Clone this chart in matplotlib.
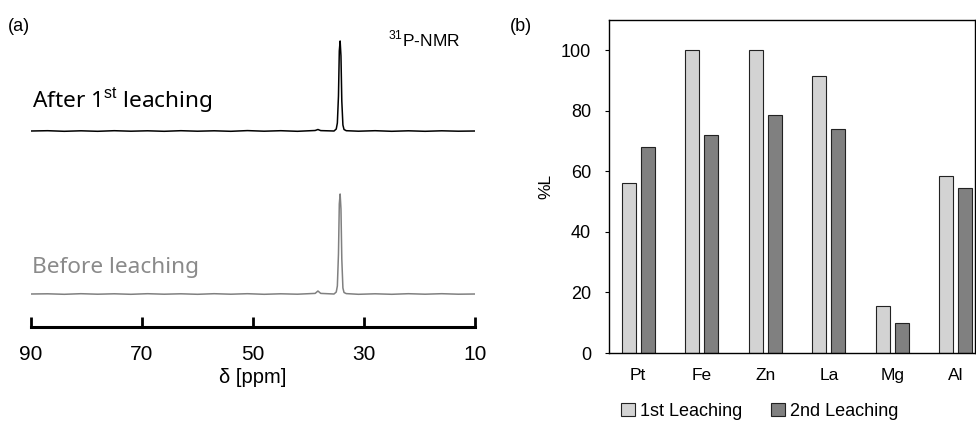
import numpy as np
import matplotlib.pyplot as plt
from matplotlib.patches import Patch

plt.rcParams.update({
    "font.family": ["Liberation Sans", "DejaVu Sans"],
    "mathtext.fontset": "custom",
    "mathtext.rm": "Liberation Sans",
    "axes.linewidth": 1.0,
})

# ---- data: (a) 31P NMR spectra ----
ppm = [90, 87, 84, 81, 78, 75, 72, 69, 66, 63, 60, 57, 54, 51, 48, 45, 42, 40,
       38.8, 38.3, 37.8,
       35.4, 35.0, 34.8, 34.6, 34.45, 34.3, 34.15, 34.0, 33.8, 33.6, 33.2,
       31, 28, 25, 22, 19, 16, 13, 10]
after_1st = [0.0, 0.3, -0.3, 0.2, -0.3, 0.3, -0.2, 0.2, -0.3, 0.3, -0.2, 0.2, -0.3, 0.4, -0.2, 0.3, -0.3, 0.2,
             0.5, 1.5, 0.4,
             0.0, 2.0, 8.0, 35.0, 80.0, 90.0, 75.0, 30.0, 6.0, 1.5, 0.3,
             -0.2, 0.3, -0.3, 0.2, -0.3, 0.2, -0.2, 0.0]
before = [0.0, 0.2, -0.3, 0.3, -0.2, 0.2, -0.3, 0.3, -0.2, 0.2, -0.3, 0.3, -0.2, 0.3, -0.3, 0.2, -0.2, 0.3,
          0.6, 3.0, 0.6,
          0.0, 2.0, 8.0, 40.0, 90.0, 100.0, 85.0, 35.0, 6.0, 1.5, 0.4,
          -0.3, 0.2, -0.3, 0.3, -0.2, 0.3, -0.2, 0.0]
ppm_ticks = [90, 70, 50, 30, 10]

# ---- data: (b) leaching percentages ----
metals = ["Pt", "Fe", "Zn", "La", "Mg", "Al"]
leach_1st = [56, 100, 100, 91.5, 15.5, 58.5]
leach_2nd = [68, 72, 78.5, 74, 10, 54.5]

W, H = 976, 421
fig = plt.figure(figsize=(W / 100, H / 100), dpi=100)

# ---------------- panel (a) ----------------
ax1 = fig.add_axes([31 / W, (H - 327) / H, (475 - 31) / W, (327 - 17) / H])
ax1.plot(ppm, np.array(after_1st) + 196, color="black", lw=1.1)
ax1.plot(ppm, np.array(before) + 33, color="#808080", lw=1.1)
ax1.set_xlim(90, 10)
ax1.set_ylim(0, 310)
for s in ["top", "right", "left"]:
    ax1.spines[s].set_visible(False)
ax1.spines["bottom"].set_linewidth(2.2)
ax1.set_yticks([])
ax1.set_xticks(ppm_ticks)
ax1.tick_params(axis="x", direction="in", length=7, width=2, labelsize=15, pad=13)
ax1.set_xlabel("δ [ppm]", fontsize=14.5, labelpad=3)

ax1.text(0.003, 0.705, "After 1$^{\\mathrm{st}}$ leaching", transform=ax1.transAxes,
         fontsize=16.3, family=["Noto Sans", "DejaVu Sans"], color="black", va="baseline")
ax1.text(0.003, 0.175, "Before leaching", transform=ax1.transAxes,
         fontsize=16.3, family=["Noto Sans", "DejaVu Sans"], color="#8a8a8a", va="baseline")
ax1.text(0.805, 0.905, "$^{31}$P-NMR", transform=ax1.transAxes, fontsize=12.5, va="baseline")

fig.text(8 / W, (H - 31) / H, "(a)", fontsize=13, va="baseline")
fig.text(510 / W, (H - 31) / H, "(b)", fontsize=13, va="baseline")

# ---------------- panel (b) ----------------
ax2 = fig.add_axes([609 / W, (H - 353) / H, (975 - 609) / W, (353 - 20) / H])
x = np.arange(len(metals))
bw = 0.22
ax2.bar(x - 0.15, leach_1st, bw, color="#d3d3d3", edgecolor="#222222", lw=0.8,
        label="1st Leaching")
ax2.bar(x + 0.15, leach_2nd, bw, color="#808080", edgecolor="#222222", lw=0.8,
        label="2nd Leaching")
ax2.set_xlim(-0.46, 5.3)
ax2.set_ylim(0, 110)
ax2.set_yticks([0, 20, 40, 60, 80, 100])
ax2.set_xticks(x)
ax2.set_xticklabels(metals)
ax2.tick_params(axis="y", direction="out", length=3, labelsize=13, pad=10)
ax2.tick_params(axis="x", length=0, labelsize=12.5, pad=11)
ax2.set_ylabel("%L", fontsize=12.5, labelpad=5)

handles = [Patch(facecolor="#d3d3d3", edgecolor="#222222", lw=0.8),
           Patch(facecolor="#808080", edgecolor="#222222", lw=0.8)]
fig.legend(handles, ["1st Leaching", "2nd Leaching"], loc="center",
           bbox_to_anchor=(760 / W, (H - 411) / H), ncol=2, frameon=False,
           fontsize=13, handlelength=0.75, handleheight=0.75, handletextpad=0.3,
           columnspacing=1.6)

fig.savefig("out.png", dpi=100)
